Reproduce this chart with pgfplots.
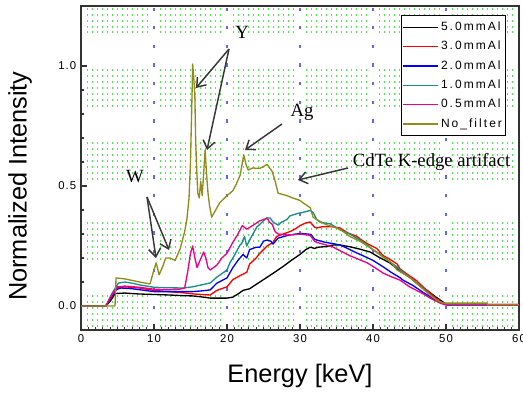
\documentclass[border=0pt]{standalone}
\usepackage{pgfplots}
\pgfplotsset{compat=1.18}
\usetikzlibrary{arrows.meta}
\usepackage{fontspec}
\setmainfont{Liberation Sans}
\newfontfamily\tickfam[LetterSpace=10]{Liberation Sans}
\newcommand\tickfont{\tickfam\fontsize{8.5}{9}\selectfont}
\newfontfamily\legfam[LetterSpace=17]{Liberation Sans}
\newcommand\legfont{\legfam\fontsize{9}{10}\selectfont}
\newfontfamily\annfam{Liberation Serif}
\newcommand\annfont{\annfam\fontsize{14}{16}\selectfont}
\newcommand\labfont{\fontsize{19}{22}\selectfont}
\definecolor{olivec}{RGB}{145,140,25}
\definecolor{tealc}{RGB}{25,140,140}
\definecolor{gdot}{RGB}{70,235,70}
\definecolor{bdot}{RGB}{100,100,255}
\definecolor{arrc}{RGB}{55,55,55}

\pgfplotstableread{
x y
0 0
3.4 0
4.0 0.02
4.7 0.052
6 0.054
8 0.05
10 0.048
12 0.046
14 0.043
15.3 0.042
16.5 0.038
17.7 0.033
19 0.033
20 0.033
20.8 0.037
21.5 0.05
22.2 0.065
23.1 0.072
24.5 0.1
25.5 0.12
26.5 0.14
27.7 0.165
28.8 0.19
30 0.215
30.8 0.235
31.4 0.245
32 0.24
32.5 0.245
33.7 0.248
34.5 0.254
35.5 0.254
36.8 0.247
38.2 0.237
39.6 0.225
41 0.2
42.3 0.18
43.7 0.145
45 0.12
46.2 0.09
47.4 0.065
48.5 0.04
49.2 0.025
50 0.008
51 0.006
60 0.006
}\tblack

\pgfplotstableread{
x y
0 0
3.4 0
4.2 0.04
5 0.075
6 0.08
8 0.075
10 0.065
12 0.06
14 0.055
15.5 0.05
17 0.047
17.7 0.046
18.6 0.065
20 0.08
20.8 0.11
22 0.13
22.7 0.14
23.1 0.175
24 0.2
24.5 0.22
25 0.235
25.5 0.25
26.3 0.265
26.8 0.29
27.7 0.3
28.6 0.31
29.3 0.32
30 0.335
30.7 0.345
31.4 0.35
32 0.328
32.3 0.325
33 0.33
33.7 0.33
34.5 0.33
35.5 0.325
36.5 0.305
37.8 0.29
38.2 0.28
39.2 0.26
40.5 0.24
41.4 0.21
42.3 0.195
43.3 0.175
43.7 0.155
44.8 0.13
46 0.105
47 0.075
47.8 0.054
48.7 0.03
49.6 0.012
50.3 0.006
60 0.006
}\tred

\pgfplotstableread{
x y
0 0
3.4 0
4.0 0.03
4.7 0.067
5.5 0.075
7 0.072
10 0.06
12 0.06
14 0.06
15.3 0.06
16.5 0.063
17.7 0.067
18.6 0.095
20 0.117
20.8 0.16
21.5 0.19
22.2 0.215
22.7 0.2
23.1 0.235
24 0.245
24.5 0.245
25 0.27
25.5 0.275
26 0.27
26.3 0.258
27 0.283
28.2 0.293
28.6 0.296
29.5 0.3
30.2 0.302
31 0.3
31.5 0.298
32 0.278
32.3 0.275
33.5 0.265
34.5 0.26
35.5 0.254
36.5 0.24
37.5 0.225
38.6 0.21
40 0.19
41.4 0.163
42.5 0.14
43.7 0.118
44.1 0.108
45.5 0.085
46.8 0.058
48 0.035
49.2 0.015
50.2 0.004
60 0.004
}\tblue

\pgfplotstableread{
x y
0 0
3.4 0
4.2 0.05
5.1 0.095
6 0.1
7 0.095
8 0.088
10 0.078
12 0.076
14 0.075
15.3 0.08
16.5 0.088
17.7 0.096
18.6 0.12
19.3 0.135
20 0.15
20.4 0.18
21 0.21
21.8 0.255
22 0.26
22.4 0.29
22.7 0.25
23.1 0.275
24.1 0.33
24.5 0.34
25 0.355
25.5 0.367
25.9 0.367
26.3 0.35
27 0.337
27.5 0.35
28.2 0.36
28.6 0.375
29.3 0.382
30 0.388
30.4 0.39
31 0.395
31.4 0.398
31.8 0.39
32.3 0.36
32.7 0.35
33.5 0.345
34.1 0.343
35.5 0.317
36.8 0.3
38.2 0.275
39.2 0.254
40 0.235
41 0.215
41.4 0.205
42.5 0.18
43.3 0.163
43.7 0.15
45 0.12
46 0.096
47 0.07
47.8 0.046
48.7 0.025
49.6 0.01
50.3 0.005
60 0.005
}\tteal

\pgfplotstableread{
x y
0 0
3.4 0
4.2 0.045
5 0.08
6 0.083
8 0.078
10 0.07
12 0.068
13.5 0.07
14.2 0.075
14.6 0.14
15 0.22
15.3 0.25
15.6 0.2
15.9 0.16
16.3 0.19
16.8 0.225
17.1 0.2
17.4 0.16
17.7 0.15
18.6 0.17
19.3 0.2
20 0.22
20.8 0.265
21.5 0.3
22.1 0.335
22.3 0.33
22.7 0.32
23.5 0.335
24.5 0.355
25.2 0.362
25.5 0.367
25.8 0.35
26.2 0.34
26.6 0.31
27 0.3
28.2 0.296
29 0.297
30 0.3
31 0.296
31.4 0.294
32 0.27
32.3 0.265
33.5 0.255
34.5 0.246
35.5 0.23
36.8 0.21
38 0.195
39.2 0.18
40.5 0.155
41.4 0.137
42.5 0.122
43.7 0.108
45 0.08
46.8 0.052
48 0.03
49.2 0.012
50.1 0.003
60 0.003
}\tmag

\pgfplotstableread{
x y
0 0
4.66 0
4.8 0.117
6 0.113
8 0.1
9.45 0.092
9.9 0.14
10.3 0.18
10.7 0.13
11.2 0.165
11.6 0.2
12.2 0.2
12.9 0.19
13.6 0.24
14.2 0.31
14.5 0.36
14.8 0.45
15.0 0.6
15.15 0.8
15.3 1.008
15.45 0.95
15.6 0.87
15.7 0.70
15.85 0.57
16.0 0.47
16.2 0.45
16.4 0.52
16.6 0.46
16.8 0.55
17.0 0.65
17.2 0.55
17.4 0.47
17.6 0.42
17.9 0.37
19.0 0.43
20.0 0.46
20.8 0.48
21.3 0.51
21.8 0.545
22.3 0.63
22.6 0.59
22.9 0.567
23.5 0.575
24.5 0.573
25.5 0.59
26.2 0.56
26.6 0.52
27 0.47
28.2 0.46
29 0.45
30 0.44
30.4 0.43
31.4 0.41
31.8 0.37
32.3 0.36
33.5 0.34
35.5 0.32
36.8 0.29
38.2 0.27
39.5 0.245
41 0.212
42.5 0.18
43.3 0.15
45 0.12
46.5 0.08
47.8 0.046
49 0.02
49.6 0.012
50.5 0.012
55.6 0.012
55.7 0.005
60 0.005
}\tolive

\begin{document}
\begin{tikzpicture}
% background dotted pattern (pixel coordinates of the reference image)
\begin{scope}[x=0.75pt,y=-0.75pt,shift={(0pt,294.75pt)}]
  \foreach \yy in {9,15,21,27,32, 70,76,82,88,94,100,106, 143,149,155,161,167,173,179, 223,229,235,241,247,253,259, 296,302,308,314,320,326}{
    \foreach \xa/\xb in {87/148, 160/221, 233/294, 306/367, 379/440, 452/515}{
      \draw[gdot, line width=1.1pt, dash pattern=on 1.1pt off 2.65pt] (\xa,\yy) -- (\xb,\yy);
    }
  }
  \foreach \xx in {154,227,300,373,446}{
    \draw[bdot, line width=0.9pt, dash pattern=on 2.5pt off 11.5pt] (\xx,328) -- (\xx,8);
  }
\end{scope}

\begin{axis}[
  at={(60.75pt,47.25pt)}, anchor=south west,
  scale only axis, width=328.5pt, height=243pt,
  xmin=0, xmax=60, ymin=-0.1, ymax=1.25,
  xtick={0,10,...,60}, ytick={0,0.5,1},
  minor x tick num=9, minor y tick num=4,
  tick align=inside, tick pos=left,
  major tick length=4.5pt, minor tick length=2.25pt,
  every tick/.style={black!80, line width=0.8pt},
  axis line style={black!80, line width=1.2pt},
  yticklabel style={/pgf/number format/.cd,fixed,fixed zerofill,precision=1},
  /pgf/number format/assume math mode=true,
  tick label style={font=\tickfont},
  xlabel={Energy [keV]}, ylabel={Normalized Intensity},
  label style={font=\labfont},
  xlabel style={at={(axis description cs:0.5,-0.142)},anchor=center},
  ylabel style={at={(axis description cs:-0.139,0.444)},anchor=center},
  legend style={at={(axis description cs:0.7306,0.972)}, anchor=north west,
    draw=black, line width=1pt, fill=white, font=\legfont,
    inner xsep=0.5pt, inner ysep=4.5pt, row sep=6pt,
    nodes={inner xsep=2pt, inner ysep=0pt, text height=6.5pt, text depth=2pt}},
  legend cell align=left,
  legend image code/.code={\draw[#1, line width=1pt] (0pt,0pt) -- (26pt,0pt);},
  every axis plot/.append style={line width=1pt, line join=round},
]
\addplot[black] table {\tblack};
\addlegendentry{5.0mmAl}
\addplot[red] table {\tred};
\addlegendentry{3.0mmAl}
\addplot[blue] table {\tblue};
\addlegendentry{2.0mmAl}
\addplot[tealc] table {\tteal};
\addlegendentry{1.0mmAl}
\addplot[magenta] table {\tmag};
\addlegendentry{0.5mmAl}
\addplot[olivec] table {\tolive};
\addlegendentry{No\_filter}
\end{axis}

% annotations (pixel coordinates of the reference image)
\begin{scope}[x=0.75pt,y=-0.75pt,shift={(0pt,294.75pt)}]
  \tikzset{ann/.style={arrc, line width=1.1pt, -{Straight Barb[length=6pt,width=9pt]}}}
  \node[font=\annfont] at (242,32) {Y};
  \draw[ann] (229,49) -- (196,88);
  \draw[ann] (229,49) -- (207,150);
  \node[font=\annfont] at (302,112) {Ag};
  \draw[ann] (282,124) -- (245,150);
  \node[font=\annfont] at (135,177) {W};
  \draw[ann] (147,197) -- (156,258);
  \draw[ann] (147,197) -- (169,250);
  \node[font=\annfont, anchor=west, inner sep=2pt] at (350,162) {CdTe K-edge artifact};
  \draw[ann] (348,168) -- (298,180);
\end{scope}
\pgfresetboundingbox
\path[use as bounding box] (0,0) rectangle (392.25pt,294.75pt);
\end{tikzpicture}
\end{document}
